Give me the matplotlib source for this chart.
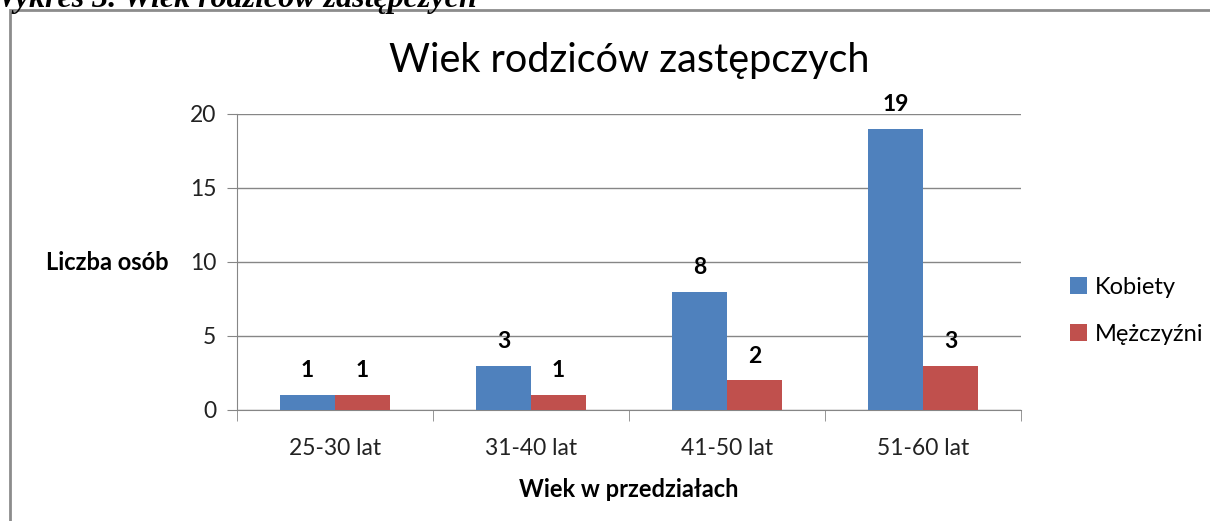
import numpy as np
import matplotlib.pyplot as plt
from matplotlib.patches import Rectangle

# Age ranges and counts per gender
categories = ["25-30 lat", "31-40 lat", "41-50 lat", "51-60 lat"]
kobiety = [1, 3, 8, 19]
mezczyzni = [1, 1, 2, 3]
series_names = ["Kobiety", "Mężczyźni"]

blue = "#4f81bd"
red = "#c0504d"
grid_col = "#868686"

plt.rcParams['font.family'] = ['Lato', 'DejaVu Sans']

fig = plt.figure(figsize=(12.1, 5.21), dpi=100)

# outer frame of the chart object (cut at right and bottom)
fig.patches.append(Rectangle((10 / 1210, -0.05), 1.2, 1 - 10 / 521 + 0.05,
                             transform=fig.transFigure, fill=False,
                             edgecolor="#8c8c8c", linewidth=2))

# caption above the chart, cut at the top of the page
fig.text(-0.01, 1 - 7 / 521, "Wykres 3. Wiek rodziców zastępczych",
         family="Liberation Serif", style="italic", weight="bold",
         fontsize=23, va="baseline", ha="left")

ax = fig.add_axes([237 / 1210, 1 - 410 / 521, (1021 - 237) / 1210, (410 - 114) / 521])

x = np.arange(len(categories))
w = 0.28
b1 = ax.bar(x - w / 2, kobiety, w, color=blue, label=series_names[0], zorder=3)
b2 = ax.bar(x + w / 2, mezczyzni, w, color=red, label=series_names[1], zorder=3)

for bars in (b1, b2):
    for rect in bars:
        h = rect.get_height()
        ax.annotate(f"{h:g}", (rect.get_x() + rect.get_width() / 2, h),
                    xytext=(0, 10), textcoords="offset points",
                    ha="center", va="bottom", fontsize=16.5, weight="bold")

ax.set_xlim(-0.5, 3.5)
ax.set_ylim(0, 20)
ax.set_yticks([0, 5, 10, 15, 20])
ax.yaxis.grid(True, color=grid_col, linewidth=1, zorder=0)

ax.set_xticks(x)
ax.set_xticklabels(categories)
ax.set_xticks(np.arange(-0.5, 4, 1), minor=True)
ax.tick_params(axis="x", which="major", length=0, pad=20, labelsize=16.5)
ax.tick_params(axis="x", which="minor", length=8, color=grid_col, direction="out")
ax.tick_params(axis="y", length=7, color=grid_col, labelsize=16.5, pad=8)
ax.tick_params(axis="both", labelcolor="#222222")

for s in ["top", "right"]:
    ax.spines[s].set_visible(False)
ax.spines["left"].set_color(grid_col)
ax.spines["bottom"].set_color(grid_col)

ax.set_title("Wiek rodziców zastępczych", fontsize=28.5, pad=30)
ax.set_xlabel("Wiek w przedziałach", fontsize=17, weight="bold", labelpad=14)
ax.set_ylabel("Liczba osób", fontsize=17, weight="bold", rotation=0,
              ha="right", va="center")
ax.yaxis.set_label_coords(-0.087, 0.5)

ax.legend(loc="center left", bbox_to_anchor=(1.035, 0.335), frameon=False,
          fontsize=17, handlelength=0.75, handleheight=0.75,
          handletextpad=0.3, labelspacing=1.1)

fig.savefig("out.png", dpi=100)
